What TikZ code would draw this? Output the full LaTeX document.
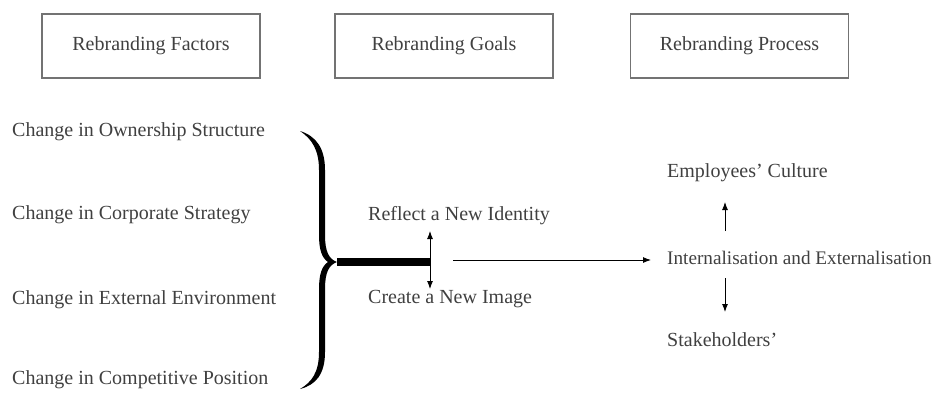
\documentclass[tikz,border=0pt]{standalone}
\usepackage{fontspec}
\setmainfont{Liberation Serif}
\usetikzlibrary{arrows.meta,calc}
\begin{document}
\begin{tikzpicture}[x=1bp,y=-1bp,
  txt/.style={font=\fontsize{20bp}{23bp}\selectfont, text=black!75, inner sep=0pt, anchor=west},
  head/.style={draw=black!55, line width=1.1bp, minimum width=218bp, minimum height=64bp, font=\fontsize{20bp}{23bp}\selectfont, text=black!75, inner sep=0pt},
  arr/.style={line width=0.9bp, -{Latex[length=8bp,width=6bp]}},
]
\useasboundingbox (0,0) rectangle (940,392);
% header boxes
\node[head] (hf) at (151,46) {Rebranding Factors};
\node[head] (hg) at (444,46) {Rebranding Goals};
\node[head] (hp) at (739.5,46) {Rebranding Process};
% factors
\node[txt] (f1) at (12,132) {Change in Ownership Structure};
\node[txt] (f2) at (12,215) {Change in Corporate Strategy};
\node[txt] (f3) at (12,300) {Change in External Environment};
\node[txt] (f4) at (12,380) {Change in Competitive Position};
% brace
\fill[black]
  (300,131) .. controls (316,136) and (325,148) .. (325,170) -- (325,235)
  .. controls (325,252) and (329,259) .. (337,262)
  .. controls (329,265) and (325,272) .. (325,289) -- (325,352)
  .. controls (325,374) and (316,385) .. (300,389)
  .. controls (312,382) and (319,372) .. (319,352) -- (319,289)
  .. controls (319,274) and (322,266) .. (328,262)
  .. controls (322,258) and (319,250) .. (319,235) -- (319,170)
  .. controls (319,150) and (312,139) .. (300,131) -- cycle;
\coordinate (tip) at (337,262);
\coordinate (mid) at (430,262);
\draw[line width=8bp] (tip) -- (mid);
% goals
\node[txt] (g1) at (368,216) {Reflect a New Identity};
\node[txt] (g2) at (368,299) {Create a New Image};
\coordinate (up1) at (430,231);
\coordinate (dn1) at (430,289);
\draw[line width=0.9bp, {Latex[length=8bp,width=6bp]}-{Latex[length=8bp,width=6bp]}] (up1) -- (dn1);
% process
\node[txt, font=\fontsize{19.2bp}{22bp}\selectfont] (int) at (667,258) {Internalisation and Externalisation};
\node[txt] (emp) at (667,173) {Employees' Culture};
\node[txt] (stk) at (667,340) {Stakeholders'};
\coordinate (a0) at (453,260);
\draw[arr, shorten >=16bp] (a0) -- (int.west|-a0);
\coordinate (u0) at (725,231);
\coordinate (u1) at (725,202);
\coordinate (d0) at (725,278);
\coordinate (d1) at (725,312);
\draw[arr] (u0) -- (u1);
\draw[arr] (d0) -- (d1);
\end{tikzpicture}
\end{document}
